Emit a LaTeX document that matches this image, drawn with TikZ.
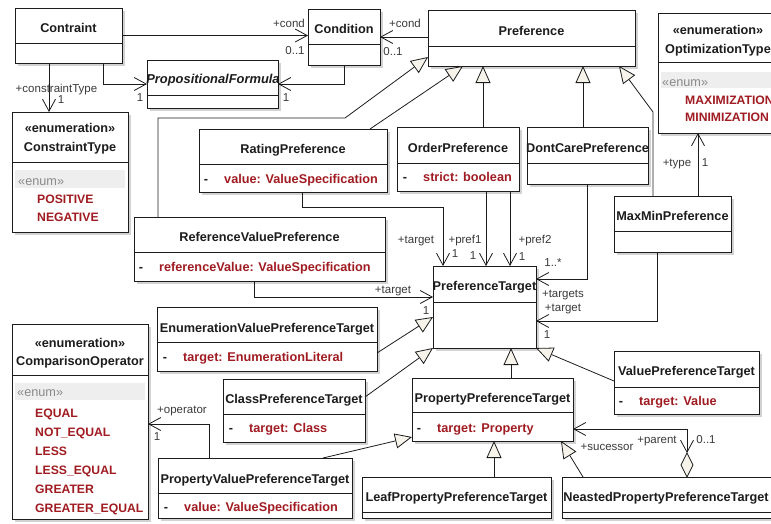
\documentclass[tikz,border=0pt]{standalone}
\usepackage{fontspec}
\setmainfont{Liberation Sans}
\usetikzlibrary{arrows.meta,shadows,calc}

\definecolor{ink}{HTML}{1C1C1C}
\definecolor{attrred}{HTML}{A01C22}
\definecolor{lbl}{HTML}{3A3A3A}
\definecolor{enumgray}{HTML}{8A8A8A}
\definecolor{bandgray}{HTML}{EEEEEE}
\definecolor{tri}{HTML}{F6F3EA}

% class box: name, x1, y1, x2, y2, y of the compartment divider
\newcommand\umlclass[6]{%
  \node[umlbox, anchor=north west, minimum width={#4-#2}, minimum height={#5-#3}] (#1) at (#2,#3) {};
  \draw[ink, line width=0.9pt] (#2,#6) -- (#4,#6);
}

\begin{document}
\begin{tikzpicture}[x=1pt,y=-1pt,
  umlbox/.style={draw=ink, line width=0.9pt, fill=white, inner sep=0pt, outer sep=0pt,
    drop shadow={shadow xshift=3pt, shadow yshift=-3pt, fill=black!35, opacity=0.5}},
  clsname/.style={font=\fontsize{12.7}{14}\selectfont\bfseries, text=ink, anchor=base, inner sep=0pt},
  iclsname/.style={clsname, font=\fontsize{12.9}{14}\selectfont\bfseries\itshape},
  attrtxt/.style={font=\fontsize{12.7}{14}\selectfont\bfseries, text=attrred, anchor=base west, inner sep=0pt},
  littxt/.style={attrtxt, font=\fontsize{12.2}{14}\selectfont\bfseries},
  vis/.style={font=\fontsize{12.7}{14}\selectfont\bfseries, text=ink, anchor=base, inner sep=0pt},
  stereo/.style={font=\fontsize{12.7}{14}\selectfont, text=enumgray, anchor=base west, inner sep=0pt},
  lab/.style={font=\fontsize{11.5}{13}\selectfont, text=lbl, anchor=base, inner sep=0pt},
  conn/.style={draw=ink, line width=0.8pt},
  barb/.tip={Straight Barb[length=12pt,width=13pt,line width=0.8pt]},
  assoc/.style={conn, -barb},
  gen/.style={conn, -{Triangle[length=17pt,width=15pt,fill=tri,line width=0.8pt]}}
]
\clip (0,0) rectangle (771,523);

% ---------- classes ----------
\umlclass{contraint}{15}{8}{122}{63}{43}
\umlclass{condition}{308}{9}{380}{65}{44}
\umlclass{preference}{428}{10}{635}{66}{46}
\umlclass{opttype}{658}{13}{778}{133}{62}
\umlclass{propform}{147}{60}{278}{108}{95}
\umlclass{ctype}{12}{112}{128}{232}{162}
\umlclass{rating}{199}{129}{387}{192}{164}
\umlclass{order}{397}{127}{519}{191}{163}
\umlclass{dontcare}{527}{127}{648}{184}{163}
\umlclass{maxmin}{614}{196}{731}{252}{231}
\umlclass{refval}{134}{217}{385}{281}{252}
\umlclass{ptarget}{433}{266}{536}{348}{302}
\umlclass{enumvpt}{157}{307}{377}{371}{342}
\umlclass{classpt}{223}{379}{365}{442}{414}
\umlclass{propvpt}{158}{458}{352}{518}{493}
\umlclass{compop}{12}{324}{148}{519}{375}
\umlclass{proppt}{412}{378}{573}{441}{412}
\umlclass{valuept}{614}{351}{759}{414}{387}
\umlclass{leafppt}{362}{477}{551}{518}{512}
\umlclass{nestedppt}{562}{477}{772}{518}{512}

% enumeration literal bands
\fill[bandgray] (661,72) rectangle (775,88);
\fill[bandgray] (15,170) rectangle (125,188);
\fill[bandgray] (15,383) rectangle (145,400);

% ---------- class texts ----------
\node[clsname] (tContraint) at (68.5,32.5) {Contraint};
\node[clsname] (tCondition) at (344,33.5) {Condition};
\node[clsname] (tPreference) at (531.5,35.5) {Preference};

\node[clsname] (tOptSt) at (718,34.5) {«enumeration»};
\node[clsname] (tOpt) at (718,53.5) {OptimizationType};
\node[stereo] (tOptEnum) at (662,86.5) {«enum»};
\node[littxt] (tMax) at (685,104.5) {MAXIMIZATION};
\node[littxt] (tMin) at (685,121.5) {MINIMIZATION};

\node[iclsname] (tProp) at (213,83.5) {PropositionalFormula};

\node[clsname] (tCtSt) at (70,132.5) {«enumeration»};
\node[clsname] (tCt) at (70,151.5) {ConstraintType};
\node[stereo] (tCtEnum) at (18,185.5) {«enum»};
\node[littxt] (tPos) at (37,203.5) {POSITIVE};
\node[littxt] (tNeg) at (37,221.5) {NEGATIVE};

\node[clsname] (tRating) at (293,153.5) {RatingPreference};
\node[vis] (tRatingV) at (206,183.5) {-};
\node[attrtxt] (tRatingA) at (224,183.5) {value: ValueSpecification};

\node[clsname] (tOrder) at (458,152.5) {OrderPreference};
\node[vis] (tOrderV) at (405,181.5) {-};
\node[attrtxt] (tOrderA) at (423,181.5) {strict: boolean};

\node[clsname] (tDontCare) at (587.5,152.5) {DontCarePreference};
\node[clsname] (tMaxMin) at (672.5,220.5) {MaxMinPreference};

\node[clsname] (tRefVal) at (259.5,241.5) {ReferenceValuePreference};
\node[vis] (tRefValV) at (141,271.5) {-};
\node[attrtxt] (tRefValA) at (159,271.5) {referenceValue: ValueSpecification};

\node[clsname] (tPTarget) at (484.5,290.5) {PreferenceTarget};

\node[clsname] (tEnumVPT) at (267,332.5) {EnumerationValuePreferenceTarget};
\node[vis] (tEnumVPTV) at (165,361.5) {-};
\node[attrtxt] (tEnumVPTA) at (183,361.5) {target: EnumerationLiteral};

\node[clsname] (tClassPT) at (294,403.5) {ClassPreferenceTarget};
\node[vis] (tClassPTV) at (231,432.5) {-};
\node[attrtxt] (tClassPTA) at (249,432.5) {target: Class};

\node[clsname] (tPropVPT) at (255,483.5) {PropertyValuePreferenceTarget};
\node[vis] (tPropVPTV) at (166,511.5) {-};
\node[attrtxt] (tPropVPTA) at (184,511.5) {value: ValueSpecification};

\node[clsname] (tCoSt) at (80,347.5) {«enumeration»};
\node[clsname] (tCo) at (80,365.5) {ComparisonOperator};
\node[stereo] (tCoEnum) at (17,396.5) {«enum»};
\node[littxt] (tEq) at (35,417.5) {EQUAL};
\node[littxt] (tNeq) at (35,436.5) {NOT\_EQUAL};
\node[littxt] (tLess) at (35,455.5) {LESS};
\node[littxt] (tLeq) at (35,474.5) {LESS\_EQUAL};
\node[littxt] (tGt) at (35,493.5) {GREATER};
\node[littxt] (tGeq) at (35,512.5) {GREATER\_EQUAL};

\node[clsname] (tPropPT) at (492.5,402.5) {PropertyPreferenceTarget};
\node[vis] (tPropPTV) at (419,432.5) {-};
\node[attrtxt] (tPropPTA) at (437,432.5) {target: Property};

\node[clsname] (tValuePT) at (686.5,375.5) {ValuePreferenceTarget};
\node[vis] (tValuePTV) at (621,405.5) {-};
\node[attrtxt] (tValuePTA) at (639,405.5) {target: Value};

\node[clsname] (tLeaf) at (456.5,501.5) {LeafPropertyPreferenceTarget};
\node[clsname] (tNested) at (666,501.5) {NeastedPropertyPreferenceTarget};

% ---------- generalizations ----------
\coordinate (gbendA) at (345,118);
\draw[gen] ([xshift=24pt]refval.north west) |- (gbendA) -- ([yshift=-19pt]preference.west);
\draw[gen] ([xshift=-17pt]rating.north east) -- ([xshift=35pt]preference.south west);
\draw[gen] ([xshift=25pt]order.north) -- ([xshift=25pt]order.north |- preference.south);
\draw[gen] ([xshift=-4.5pt]dontcare.north) -- ([xshift=-4.5pt]dontcare.north |- preference.south);
\coordinate (gbendB) at (653,112);
\draw[gen] ([xshift=39pt]maxmin.north west) -- (gbendB) -- ([xshift=-16pt]preference.south east);
\draw[gen] ([yshift=-46pt]enumvpt.north east) -- ([yshift=-51pt]ptarget.north west);
\draw[gen] ([yshift=-18pt]classpt.north east) -- (ptarget.south west);
\draw[gen] ([xshift=18.5pt]proppt.north) -- ([xshift=18.5pt]proppt.north |- ptarget.south);
\draw[gen] ([yshift=-30pt]valuept.north west) -- (ptarget.south east);
\draw[gen] ([xshift=165pt]propvpt.north west) -- ([yshift=4pt]proppt.south west);
\draw[gen] ([xshift=132pt]leafppt.north west) -- ([xshift=132pt]leafppt.north west |- proppt.south);
\draw[gen] ([xshift=21pt]nestedppt.north west) -- ([xshift=-12pt]proppt.south east);

% ---------- associations ----------
\draw[assoc] (contraint.east) -- (contraint.east -| condition.west);
\draw[assoc] ([xshift=34.5pt]contraint.south) |- (propform.west);
\draw[assoc] ([xshift=-19.5pt]contraint.south) -- ([xshift=-19.5pt]contraint.south |- ctype.north);
\draw[assoc] (condition.south) |- (propform.east);
\draw[assoc] (preference.west |- condition.east) -- (condition.east);
\draw[assoc] ([xshift=84pt]maxmin.north west) -- ([xshift=84pt]maxmin.north west |- opttype.south);
\draw[assoc] ([xshift=103pt]rating.south west) -- ++(0,15) -| ([xshift=10pt]ptarget.north west);
\draw[assoc] ([xshift=89pt]order.south west) -- ([xshift=89pt]order.south west |- ptarget.north);
\draw[assoc] ([xshift=113pt]order.south west) -- ([xshift=113pt]order.south west |- ptarget.north);
\draw[assoc] (dontcare.south) |- ([yshift=-13pt]ptarget.north east);
\draw[assoc] ([xshift=43pt]maxmin.south west) |- ([yshift=-55pt]ptarget.north east);
\draw[assoc] ([xshift=120pt]refval.south west) |- ([yshift=-31pt]ptarget.north west);
\draw[assoc] ([xshift=51pt]propvpt.north west) |- ([yshift=-100pt]compop.north east);

% aggregation (parent / successor)
\coordinate (aggtip) at ($(nestedppt.north west)+(125,0)$);
\filldraw[draw=ink, fill=tri, line width=0.8pt] (aggtip) -- ++(-6,-12) -- ++(6,-12) -- ++(6,12) -- cycle;
\coordinate (aggtop) at ($(aggtip)+(0,-24)$);
\draw[conn, barb-barb] (aggtop) |- ([yshift=-51pt]proppt.north east);

% ---------- role names and multiplicities ----------
\node[lab] (m1) at (289,27) {+cond};
\node[lab] (m2) at (295,54) {0..1};
\node[lab] (m3) at (140,101) {1};
\node[lab] (m4) at (286,101) {1};
\node[lab] (m5) at (405,27) {+cond};
\node[lab] (m6) at (393,55) {0..1};
\node[lab] (m7) at (56.5,92) {+constraintType};
\node[lab] (m8) at (61,103) {1};
\node[lab] (m9) at (677,166) {+type};
\node[lab] (m10) at (705,166) {1};
\node[lab] (m11) at (416,243) {+target};
\node[lab] (m12) at (455,257) {1};
\node[lab] (m13) at (465,243) {+pref1};
\node[lab] (m14) at (473,259) {1};
\node[lab] (m15) at (535,243) {+pref2};
\node[lab] (m16) at (522,260) {1};
\node[lab] (m17) at (553,266) {1..*};
\node[lab] (m18) at (563,297) {+targets};
\node[lab] (m19) at (563,311) {+target};
\node[lab] (m20) at (547,338) {1};
\node[lab] (m21) at (393,293) {+target};
\node[lab] (m22) at (426,314) {1};
\node[lab] (m23) at (182,413) {+operator};
\node[lab] (m24) at (157,440) {1};
\node[lab] (m25) at (607,450) {+sucessor};
\node[lab] (m26) at (657,443) {+parent};
\node[lab] (m27) at (706,443) {0..1};
\end{tikzpicture}
\end{document}
